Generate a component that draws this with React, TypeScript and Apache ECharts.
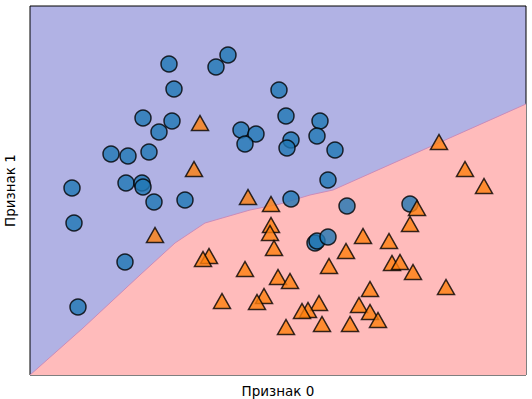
import React, { useEffect, useRef } from "react";
import * as echarts from "echarts";

// Data in chart units (x: 0..496, y: 0..369)
const class0: [number, number][] = [
  [139, 311], [186, 308], [198, 320], [144, 286], [113, 257], [142, 254], [129, 243],
  [211, 245], [226, 241], [215, 231], [249, 285], [81, 221], [98, 219], [119, 223],
  [42, 187], [96, 192], [112, 192], [113, 188], [256, 259], [290, 254], [287, 239],
  [261, 235], [257, 227], [305, 225], [298, 195], [124, 173], [155, 175], [44, 152],
  [95, 113], [48, 68], [261, 176], [317, 169], [380, 171], [285, 132], [287, 134],
  [298, 138],
];

const class1: [number, number][] = [
  [170, 252], [164, 206], [409, 233], [435, 206], [454, 189], [125, 140], [218, 178],
  [241, 171], [241, 150], [240, 142], [244, 127], [179, 119], [173, 116], [215, 106],
  [248, 98], [192, 74], [234, 79], [227, 73], [387, 167], [380, 151], [333, 139],
  [359, 134], [316, 124], [299, 109], [362, 112], [370, 113], [383, 103], [260, 94],
  [416, 88], [340, 86], [289, 72], [278, 65], [272, 64], [329, 70], [340, 63],
  [348, 55], [292, 51], [320, 51], [256, 48],
];

const boundary: [number, number][] = [
  [0, 0], [53, 47], [110, 100], [145, 132], [160, 142], [175, 152], [220, 165],
  [250, 171], [280, 180], [303, 185], [496, 271],
];

const xName = "Признак 0";
const yName = "Признак 1";

export default function App() {
  const ref = useRef<HTMLDivElement>(null);
  useEffect(() => {
    document.body.style.margin = "0";
    const chart = echarts.init(ref.current!, undefined, { renderer: "svg" });
    const font = "'DejaVu Sans', sans-serif";
    chart.setOption({
      animation: false,
      grid: {
        left: 30,
        top: 6,
        width: 496,
        height: 369,
        outerBoundsMode: "none",
        containLabel: false,
        show: true,
        backgroundColor: "#b1b2e4",
        borderColor: "#000",
        borderWidth: 1,
        z: 0,
      },
      xAxis: {
        type: "value",
        min: 0,
        max: 496,
        axisLine: { show: false },
        axisTick: { show: false },
        axisLabel: { show: false },
        splitLine: { show: false },
        name: xName,
        nameLocation: "middle",
        nameGap: 9,
        nameTextStyle: { fontFamily: font, fontSize: 13.5, color: "#000" },
      },
      yAxis: {
        type: "value",
        min: 0,
        max: 369,
        axisLine: { show: false },
        axisTick: { show: false },
        axisLabel: { show: false },
        splitLine: { show: false },
        name: yName,
        nameLocation: "middle",
        nameGap: 13,
        nameTextStyle: { fontFamily: font, fontSize: 13.5, color: "#000" },
      },
      series: [
        {
          type: "line",
          data: boundary,
          symbol: "none",
          lineStyle: { color: "#c98cb9", width: 1 },
          areaStyle: { color: "#ffbbbb", opacity: 1, origin: "start" },
          z: 1,
          silent: true,
        },
        {
          type: "scatter",
          data: class0,
          symbol: "circle",
          symbolSize: 16,
          itemStyle: { color: "#1f77b4", borderColor: "#000", borderWidth: 1.5 },
          z: 3,
        },
        {
          type: "scatter",
          data: class1,
          symbol: "triangle",
          symbolSize: [17, 15],
          itemStyle: { color: "#ff7f0e", borderColor: "#000", borderWidth: 1.5 },
          z: 4,
        },
      ],
    });
    return () => chart.dispose();
  }, []);
  return <div ref={ref} style={{ width: 532, height: 399 }} />;
}
